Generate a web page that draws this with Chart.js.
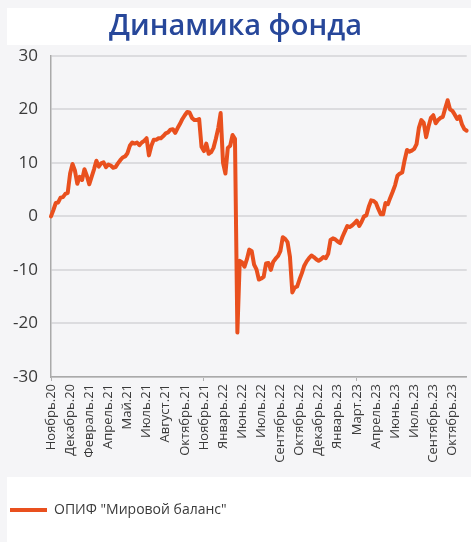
<!DOCTYPE html>
<html>
<head>
<meta charset="utf-8">
<script src="https://cdn.jsdelivr.net/npm/chart.js@4"></script>
<style>
  body { margin: 0; background: #f5f5f7; }
  canvas { display: block; }
</style>
</head>
<body>
<canvas id="fundChart" width="471" height="542"></canvas>
<script>
// labelled months, one every 8 points
const tickLabels = [
  'Ноябрь.20', 'Декабрь.20', 'Февраль.21', 'Апрель.21', 'Май.21', 'Июль.21',
  'Август.21', 'Октябрь.21', 'Ноябрь.21', 'Январь.22', 'Июнь.22', 'Июль.22',
  'Сентябрь.22', 'Октябрь.22', 'Декабрь.22', 'Январь.23', 'Март.23', 'Апрель.23',
  'Июнь.23', 'Июль.23', 'Сентябрь.23', 'Октябрь.23'
];
const labelStep = 8;

const seriesName = 'ОПИФ "Мировой баланс"';

// fund return, %
const fundValues = [
  0, 1.2, 2.5, 2.6, 3.5, 3.6, 4.2, 4.4, 8.0, 9.8,
  8.6, 6.1, 7.4, 6.8, 8.8, 7.6, 6.0, 7.4, 8.8, 10.4,
  9.3, 9.9, 10.1, 9.2, 9.7, 9.5, 9.1, 9.2, 9.9, 10.5,
  11.0, 11.2, 11.8, 13.2, 13.8, 13.6, 13.8, 13.3, 13.8, 14.1,
  14.6, 11.4, 13.2, 14.3, 14.3, 14.6, 14.6, 15.0, 15.5, 15.7,
  16.2, 16.3, 15.6, 16.5, 17.3, 18.2, 18.9, 19.5, 19.4, 18.4,
  18.0, 18.0, 18.2, 13.0, 12.2, 13.6, 11.7, 12.0, 12.8, 14.5,
  16.5, 19.3, 10.0, 8.0, 12.8, 13.2, 15.2, 14.5, -21.7, -8.3,
  -8.6, -9.4, -8.0, -6.2, -6.5, -9.0, -9.9, -11.8, -11.6, -11.3,
  -8.8, -8.7, -10.0, -8.5, -7.9, -7.4, -6.5, -3.9, -4.2, -4.8,
  -7.5, -14.2, -13.3, -13.1, -11.8, -10.6, -9.2, -8.4, -7.8, -7.3,
  -7.6, -8.0, -8.3, -8.0, -7.6, -7.8, -7.0, -4.4, -4.1, -4.3,
  -4.7, -5.0, -3.8, -2.8, -1.8, -2.0, -1.7, -1.3, -0.8, -1.8,
  -1.0, 0.0, 0.2, 1.8, 3.0, 2.9, 2.5, 1.4, 0.4, 0.4,
  2.5, 2.3, 3.5, 4.6, 5.8, 7.6, 8.0, 8.2, 10.5, 12.4,
  12.1, 12.3, 12.6, 13.5, 16.6, 18.0, 17.5, 14.8, 16.8, 18.4,
  18.9, 17.4, 18.0, 18.4, 18.6, 20.2, 21.7, 20.0, 19.7, 19.0,
  18.2, 18.7, 17.2, 16.3, 16.0
];

const yTicks = { min: -30, max: 30, step: 10 };

const orange = '#e9501e';
const titleBlue = '#27479a';
const textGrey = '#3a3a3a';

// grey page with white title and legend strips
const panelBackground = {
  id: 'panelBackground',
  beforeDraw(chart) {
    const ctx = chart.ctx;
    ctx.save();
    ctx.fillStyle = '#f5f5f7';
    ctx.fillRect(0, 0, chart.width, chart.height);
    ctx.fillStyle = '#ffffff';
    ctx.fillRect(7, 8, chart.width - 7, 37);
    ctx.fillRect(7, 477, chart.width - 7, chart.height - 477);
    ctx.restore();
  }
};

const ctx = document.getElementById('fundChart').getContext('2d');

new Chart(ctx, {
  type: 'line',
  data: {
    labels: fundValues.map((v, i) => i),
    datasets: [{
      label: seriesName,
      data: fundValues,
      borderColor: orange,
      backgroundColor: orange,
      borderWidth: 4,
      pointRadius: 0,
      tension: 0,
      borderJoinStyle: 'round',
      borderCapStyle: 'round'
    }]
  },
  options: {
    responsive: false,
    animation: false,
    layout: { padding: { left: 0, right: 0, top: 0, bottom: 15 } },
    plugins: {
      title: {
        display: true,
        text: 'Динамика фонда',
        color: titleBlue,
        font: { family: 'Open Sans', size: 29, weight: '600' },
        padding: { top: 9, bottom: 12 }
      },
      legend: {
        position: 'bottom',
        align: 'start',
        labels: {
          color: textGrey,
          font: { family: 'Open Sans', size: 14 },
          boxWidth: 37,
          boxHeight: 4,
          padding: 10,
          generateLabels(chart) {
            const items = Chart.defaults.plugins.legend.labels.generateLabels(chart);
            items.forEach(it => { it.lineWidth = 0; it.fillStyle = orange; });
            return items;
          }
        }
      },
      tooltip: { enabled: false }
    },
    scales: {
      x: {
        type: 'category',
        afterFit: s => { s.height = 116; },
        grid: {
          drawOnChartArea: false,
          drawTicks: true,
          tickLength: 4,
          color: c => (c.index % labelStep === 0 ? '#b0b0b0' : 'transparent'),
          lineWidth: 1
        },
        border: { color: '#aaaaaa', width: 1.5 },
        ticks: {
          autoSkip: false,
          maxRotation: 90,
          minRotation: 90,
          padding: 3,
          color: textGrey,
          font: { family: 'Open Sans', size: 13 },
          callback: (v, i) => (i % labelStep === 0 ? tickLabels[i / labelStep] : null)
        }
      },
      y: {
        min: yTicks.min,
        max: yTicks.max,
        afterFit: s => { s.width = 51; },
        grid: { color: '#dcdcdf', lineWidth: 2, drawTicks: false },
        border: { color: '#aaaaaa', width: 1.5 },
        ticks: {
          stepSize: yTicks.step,
          padding: 13,
          color: textGrey,
          font: { family: 'Open Sans', size: 17 }
        }
      }
    }
  },
  plugins: [panelBackground]
});
</script>
</body>
</html>
